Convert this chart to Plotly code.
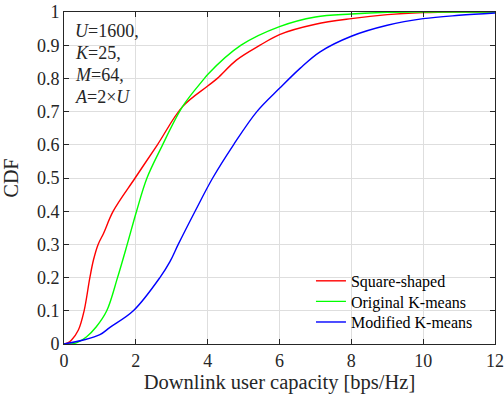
import plotly.graph_objects as go

# Data (CDF curves)
square_x = [0, 0.1, 0.21, 0.4, 0.56, 0.72, 0.82, 0.95, 1.1, 1.37, 1.98, 2.6, 3.3, 4.0, 4.27, 4.8, 5.46, 6.0, 7.0, 8.0, 9.0, 10.0, 11.0, 12.0]
square_y = [0, 0.003, 0.012, 0.042, 0.1, 0.2, 0.253, 0.3, 0.333, 0.4, 0.5, 0.6, 0.715, 0.777, 0.8, 0.855, 0.9, 0.932, 0.963, 0.98, 0.992, 0.998, 1.0, 1.0]

orig_x = [0, 0.3, 0.63, 0.9, 1.19, 1.49, 1.76, 2.02, 2.31, 2.7, 3.3, 3.91, 4.0, 4.93, 6.0, 7.0, 8.0, 9.0, 10.0, 12.0]
orig_y = [0, 0.002, 0.022, 0.052, 0.1, 0.2, 0.3, 0.4, 0.5, 0.59, 0.715, 0.8, 0.812, 0.9, 0.956, 0.985, 0.994, 0.999, 1.0, 1.0]

mod_x = [0, 0.54, 1.0, 1.28, 1.93, 2.67, 2.95, 3.18, 3.65, 4.14, 4.72, 5.37, 6.0, 6.58, 7.13, 8.0, 9.0, 10.0, 11.0, 12.0]
mod_y = [0, 0.012, 0.028, 0.05, 0.1, 0.2, 0.248, 0.3, 0.4, 0.5, 0.6, 0.7, 0.77, 0.831, 0.88, 0.927, 0.96, 0.98, 0.99, 0.997]

series_names = ["Square-shaped", "Original K-means", "Modified K-means"]
x_ticks = [0, 2, 4, 6, 8, 10, 12]
y_ticks = [0, 0.1, 0.2, 0.3, 0.4, 0.5, 0.6, 0.7, 0.8, 0.9, 1]
y_ticklabels = ["0", "0.1", "0.2", "0.3", "0.4", "0.5", "0.6", "0.7", "0.8", "0.9", "1"]
param_lines = ["<i>U</i>=1600,", "<i>K</i>=25,", "<i>M</i>=64,", "<i>A</i>=2×<i>U</i>"]

FONT = "Liberation Serif"
AX = "#262626"

fig = go.Figure()
legend_ids = ["legend", "legend2", "legend3"]
for xs, ys, name, col, lg in [
    (square_x, square_y, series_names[0], "#ff0000", legend_ids[0]),
    (orig_x, orig_y, series_names[1], "#00ff00", legend_ids[1]),
    (mod_x, mod_y, series_names[2], "#0000ff", legend_ids[2]),
]:
    fig.add_trace(go.Scatter(x=xs, y=ys, mode="lines", name=name, legend=lg,
                             line=dict(color=col, width=1.4, shape="spline", smoothing=1.0)))

axis_common = dict(
    showline=True, linecolor=AX, linewidth=1, mirror="ticks",
    ticks="inside", ticklen=5, tickcolor=AX, tickwidth=1,
    showgrid=True, gridcolor="#dedede", gridwidth=1,
    zeroline=False, tickfont=dict(family=FONT, size=18, color=AX),
    automargin=False,
)

fig.update_xaxes(range=[0, 12], tickvals=x_ticks, **axis_common,
                 title=dict(text="Downlink user capacity [bps/Hz]",
                            font=dict(family=FONT, size=20.5, color=AX), standoff=4))
fig.update_yaxes(range=[0, 1], tickvals=y_ticks, ticktext=y_ticklabels, **axis_common,
                 title=dict(text="CDF", font=dict(family=FONT, size=20, color=AX), standoff=21))

line_y = [0.943, 0.877, 0.809, 0.744]
for txt, yy in zip(param_lines, line_y):
    fig.add_annotation(text=txt, xref="paper", yref="paper", x=0.02, y=yy,
                       xanchor="left", yanchor="middle", showarrow=False,
                       font=dict(family=FONT, size=18, color=AX))

leg_style = dict(xanchor="left", yanchor="middle", x=0.573,
                 bgcolor="rgba(0,0,0,0)", borderwidth=0,
                 font=dict(family=FONT, size=16, color="#000000"), itemwidth=30)
legend_rows = [0.190, 0.128, 0.066]

fig.update_layout(
    width=504, height=403,
    margin=dict(l=64, r=9, t=12, b=59),
    paper_bgcolor="white", plot_bgcolor="white",
    font=dict(family=FONT, color=AX),
    legend=dict(y=legend_rows[0], **leg_style),
    legend2=dict(y=legend_rows[1], **leg_style),
    legend3=dict(y=legend_rows[2], **leg_style),
    showlegend=True,
)

fig.write_html("out.html", config={"displayModeBar": False},
               post_script="document.body.style.margin='0';")
